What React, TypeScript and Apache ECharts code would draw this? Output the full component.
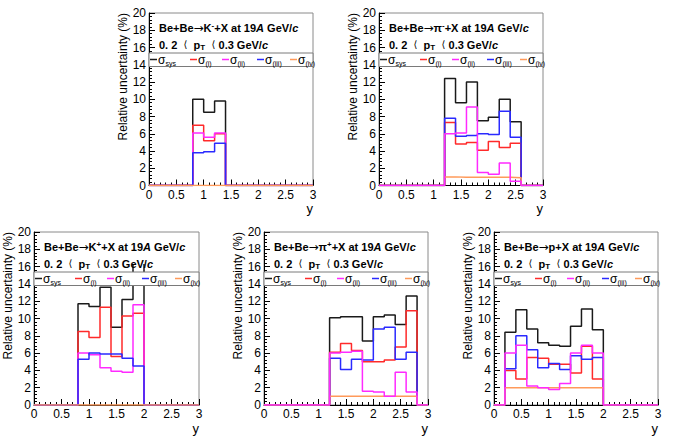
import React, { useEffect, useRef } from "react";
import * as echarts from "echarts";

// ---------- data ----------
const binEdges = [0, 0.2, 0.4, 0.6, 0.8, 1.0, 1.2, 1.4, 1.6, 1.8, 2.0, 2.2, 2.4, 2.6, 2.8, 3.0];
const xTicks = [0, 0.5, 1, 1.5, 2, 2.5, 3];
const yTicks = [0, 2, 4, 6, 8, 10, 12, 14, 16, 18, 20];

const seriesNames = ["sys", "(i)", "(ii)", "(iii)", "(iv)"];

// K- (first filled bin index 4 -> y = 0.8)
const kmStart = 4;
const kmSys = [10.0, 8.5, 9.8];
const kmI = [7.0, 5.2, 6.0];
const kmII = [6.1, 5.6, 6.1];
const kmIII = [3.8, 3.9, 4.9];
const kmIV = [0, 0, 0];

// pi- (first bin 1.2)
const pimStart = 6;
const pimSys = [12.4, 9.6, 12.0, 7.5, 7.9, 10.0, 7.4];
const pimI = [7.3, 4.8, 5.0, 4.1, 5.1, 4.4, 4.9];
const pimII = [6.0, 6.1, 9.1, 1.5, 1.3, 2.6, 0.5];
const pimIII = [7.8, 5.7, 5.8, 6.0, 5.9, 8.6, 5.6];
const pimIV = [1.0, 0.97, 0.95, 0.95, 0.95, 0.95, 0.9];

// K+ (first bin 0.8)
const kpStart = 4;
const kpSys = [11.7, 11.4, 13.6, 9.0, 12.2, 18.0];
const kpI = [8.5, 7.8, 11.3, 5.6, 10.3, 10.6];
const kpII = [6.0, 5.8, 4.3, 3.9, 3.8, 11.6];
const kpIII = [5.3, 6.0, 5.9, 5.9, 5.4, 4.5];
const kpIV = [0, 0, 0, 0, 0, 0];

// pi+ (first bin 1.2)
const pipStart = 6;
const pipSys = [10.1, 10.2, 10.2, 7.4, 10.2, 10.4, 9.3, 12.6];
const pipI = [6.1, 7.1, 6.3, 5.0, 5.0, 5.2, 6.7, 10.9];
const pipII = [6.0, 6.1, 6.2, 1.6, 1.5, 1.0, 3.8, 1.5];
const pipIII = [5.4, 4.1, 5.3, 5.2, 8.8, 9.0, 5.3, 6.1];
const pipIV = [1.0, 1.0, 1.0, 1.0, 1.0, 1.0, 1.0, 1.0];

// p (first bin 0.2)
const pStart = 1;
const pSys = [8.4, 11.0, 8.8, 7.2, 6.9, 6.8, 9.1, 11.1, 8.7];
const pI = [4.0, 3.0, 5.5, 5.4, 4.7, 4.7, 3.7, 6.8, 3.0];
const pII = [6.0, 6.9, 2.2, 2.0, 1.8, 2.5, 6.0, 6.9, 6.0];
const pIII = [4.2, 8.0, 6.4, 4.3, 4.8, 4.1, 5.7, 5.3, 5.5];
const pIV = [2.0, 2.0, 2.0, 2.0, 2.0, 2.0, 2.0, 2.0, 2.0];

const particles = [
  { head: "{b|Be+Be}{arr|→}{b|K}{sup|-}{b|+X at 19}{bi|A}{b| GeV/}{bi|c}", start: kmStart, vals: [kmSys, kmI, kmII, kmIII, kmIV], order: [0, 1, 2, 3, 4] },
  { head: "{b|Be+Be}{arr|→}{b|π}{sup|-}{b|+X at 19}{bi|A}{b| GeV/}{bi|c}", start: pimStart, vals: [pimSys, pimI, pimII, pimIII, pimIV], order: [0, 1, 3, 4, 2] },
  { head: "{b|Be+Be}{arr|→}{b|K}{sup|+}{b|+X at 19}{bi|A}{b| GeV/}{bi|c}", start: kpStart, vals: [kpSys, kpI, kpII, kpIII, kpIV], order: [0, 1, 2, 3, 4] },
  { head: "{b|Be+Be}{arr|→}{b|π}{sup|+}{b|+X at 19}{bi|A}{b| GeV/}{bi|c}", start: pipStart, vals: [pipSys, pipI, pipII, pipIII, pipIV], order: [0, 1, 3, 4, 2] },
  { head: "{b|Be+Be}{arr|→}{b|p+X at 19}{bi|A}{b| GeV/}{bi|c}", start: pStart, vals: [pSys, pI, pII, pIII, pIV], order: [0, 1, 3, 4, 2] },
];
const ptRange = "{b|0. 2  }{ang|⟨}{b|  p}{sub|T}{ang|  ⟨ }{b|0.3 GeV/}{bi|c}";

// ---------- style / layout ----------
const FONT = "'Liberation Sans', Arial, Helvetica, sans-serif";
const colors = ["#1a1a1a", "#ff2a2a", "#ff2aff", "#2a2aff", "#ff9a5a"];
const frames = [
  { left: 149, top: 13, width: 164, height: 172.5 },
  { left: 379, top: 13, width: 164, height: 172.5 },
  { left: 34, top: 232, width: 165, height: 173 },
  { left: 264, top: 232, width: 164, height: 173 },
  { left: 494, top: 232, width: 164, height: 173 },
];
const legendOffsets = [1, 41, 73, 108, 141];

const titleRich: any = {
  b: { fontFamily: FONT, fontWeight: "bold", fontSize: 11, lineHeight: 14, color: "#000" },
  arr: { fontFamily: "'DejaVu Sans', sans-serif", fontSize: 12, lineHeight: 14, color: "#000" },
  bi: { fontFamily: FONT, fontWeight: "bold", fontStyle: "italic", fontSize: 11, lineHeight: 14, color: "#000" },
  sup: { fontFamily: FONT, fontWeight: "bold", fontSize: 8, lineHeight: 8, verticalAlign: "top", color: "#000" },
  sub: { fontFamily: FONT, fontWeight: "bold", fontSize: 8, lineHeight: 6, verticalAlign: "bottom", color: "#000" },
  ang: { fontFamily: "'DejaVu Sans', sans-serif", fontSize: 10, lineHeight: 14, color: "#000" },
};
const legRich: any = {
  s: { fontFamily: FONT, fontSize: 12, lineHeight: 14, color: "#000" },
  sub: { fontFamily: FONT, fontSize: 7, lineHeight: 6, verticalAlign: "bottom", color: "#000" },
};

function hist(start: number, vals: number[]) {
  const full = new Array(binEdges.length - 1).fill(0);
  vals.forEach((v, i) => (full[start + i] = v));
  const pts = full.map((v, i) => [binEdges[i], v]);
  pts.push([binEdges[binEdges.length - 1], full[full.length - 1]]);
  return pts;
}

function buildOption() {
  const grid: any[] = [];
  const xAxis: any[] = [];
  const yAxis: any[] = [];
  const series: any[] = [];
  const graphic: any[] = [];

  frames.forEach((f, i) => {
    grid.push({ left: f.left, top: f.top, width: f.width, height: f.height, show: true, borderColor: "#8a8a8a", borderWidth: 1 });
    const common = {
      gridIndex: i,
      type: "value",
      axisLine: { show: true, onZero: false, lineStyle: { color: "#000", width: 1 } },
      axisTick: { show: true, inside: true, length: 6, lineStyle: { color: "#000" } },
      minorTick: { show: true, splitNumber: 5, length: 3, lineStyle: { color: "#000" } },
      splitLine: { show: false },
    };
    xAxis.push({
      ...common,
      min: xTicks[0],
      max: xTicks[xTicks.length - 1],
      interval: xTicks[1] - xTicks[0],
      axisLabel: { fontSize: 12, color: "#000", fontFamily: FONT, margin: 3 },
    });
    yAxis.push({
      ...common,
      min: yTicks[0],
      max: yTicks[yTicks.length - 1],
      interval: yTicks[1] - yTicks[0],
      axisLabel: { fontSize: 12, color: "#000", fontFamily: FONT, margin: 3 },
    });

    const p = particles[i];
    p.order.forEach((k) => {
      series.push({
        name: "σ" + seriesNames[k],
        type: "line",
        step: "end",
        xAxisIndex: i,
        yAxisIndex: i,
        symbol: "none",
        clip: true,
        lineStyle: { color: colors[k], width: 1.5 },
        data: hist(p.start, p.vals[k]),
      });
    });

    // title area (white)
    graphic.push({
      type: "rect",
      z: 100,
      shape: { x: f.left + 8, y: f.top + 1, width: f.width - 9, height: 31 },
      style: { fill: "#fff" },
    });
    graphic.push({
      type: "text",
      z: 102,
      x: f.left + 10,
      y: f.top + 15,
      style: { text: p.head, rich: titleRich, verticalAlign: "middle", align: "left" },
    });
    graphic.push({
      type: "text",
      z: 102,
      x: f.left + 10,
      y: f.top + 31.5,
      style: { text: ptRange, rich: titleRich, verticalAlign: "middle", align: "left" },
    });
    // legend box
    graphic.push({
      type: "rect",
      z: 100,
      shape: { x: f.left, y: f.top + 40, width: f.width, height: 13.5 },
      style: { fill: "#fff", stroke: "#7a7a7a", lineWidth: 1 },
    });
    seriesNames.forEach((nm, k) => {
      const x0 = f.left + legendOffsets[k];
      const yc = f.top + 46.5;
      graphic.push({
        type: "line",
        z: 102,
        shape: { x1: x0, y1: yc, x2: x0 + 7, y2: yc },
        style: { stroke: colors[k], lineWidth: 1.5 },
      });
      graphic.push({
        type: "text",
        z: 102,
        x: x0 + 8,
        y: yc,
        style: { text: "{s|σ}{sub|" + nm + "}", rich: legRich, verticalAlign: "middle", align: "left" },
      });
    });
    // axis titles
    graphic.push({
      type: "text",
      z: 102,
      x: f.left - 26,
      y: f.top,
      rotation: Math.PI / 2,
      style: { text: "Relative uncertainty (%)", font: "12px " + FONT, fill: "#000", align: "right", verticalAlign: "middle" },
    });
    graphic.push({
      type: "text",
      z: 102,
      x: f.left + f.width,
      y: f.top + f.height + 23,
      style: { text: "y", font: "13px " + FONT, fill: "#000", align: "right", verticalAlign: "middle" },
    });
  });

  return { animation: false, backgroundColor: "#fff", grid, xAxis, yAxis, series, graphic };
}

export default function App() {
  const ref = useRef<HTMLDivElement>(null);
  useEffect(() => {
    document.body.style.margin = "0";
    const chart = echarts.init(ref.current!, null, { renderer: "svg" });
    chart.setOption(buildOption() as any);
    return () => chart.dispose();
  }, []);
  return <div ref={ref} style={{ width: 685, height: 438 }} />;
}
